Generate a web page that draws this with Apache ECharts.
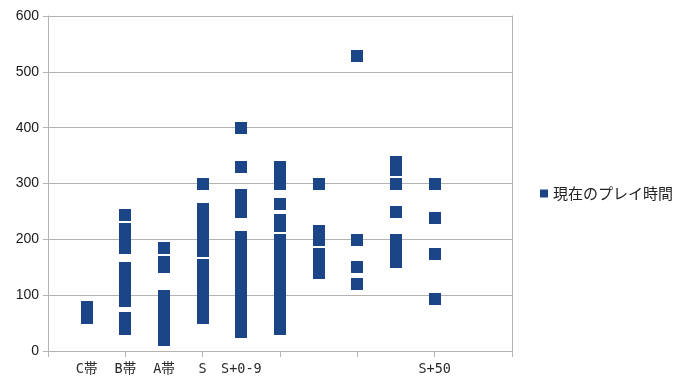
<!DOCTYPE html>
<html><head><meta charset="utf-8">
<script src="https://cdn.jsdelivr.net/npm/echarts@6/dist/echarts.min.js"></script>
<style>html,body{margin:0;padding:0;background:#fff}#c{width:688px;height:387px}</style>
</head><body><div id="c"></div>
<script>
// Category labels (index 0 and 11,12 are empty slots; 6-9 unlabeled)
const categories = ["", "C帯", "B帯", "A帯", "S", "S+0-9", "", "", "", "", "S+50", "", ""];
const seriesName = "現在のプレイ時間";
// Values per column (category index -> values)
const colC   = [79, 72, 65, 59];
const colB   = [244, 218, 205, 195, 185, 149, 135, 120, 105, 90, 59, 49, 39];
const colA   = [184, 159, 151, 98, 85, 70, 55, 40, 30, 20];
const colS   = [299, 254, 240, 225, 210, 195, 180, 154, 140, 125, 110, 95, 80, 68, 59];
const colS09 = [400, 330, 279, 264, 249, 204, 190, 175, 160, 145, 130, 115, 100, 85, 70, 55, 45, 34];
const col6   = [330, 315, 299, 264, 235, 224, 199, 185, 170, 155, 140, 125, 110, 95, 80, 65, 52, 39];
const col7   = [299, 215, 207, 199, 174, 157, 140];
const col8   = [528, 199, 150, 120];
const col9   = [339, 324, 299, 249, 199, 185, 172, 159];
const colS50 = [299, 239, 174, 93];
const yTicks = {min: 0, max: 600, interval: 100};

const columns = [[1, colC], [2, colB], [3, colA], [4, colS], [5, colS09], [6, col6], [7, col7], [8, col8], [9, col9], [10, colS50]];
const data = [];
columns.forEach(([idx, vals]) => vals.forEach(v => data.push([idx, v])));

const gridColor = '#b3b3b3';
const markColor = '#1c4587';
const markSize = 12;
const chart = echarts.init(document.getElementById('c'), null, {renderer: 'canvas'});
chart.setOption({
  animation: false,
  backgroundColor: '#fff',
  color: [markColor],
  grid: {left: 48, right: 176, top: 16, bottom: 36, containLabel: false},
  legend: {
    data: [{name: seriesName, icon: 'rect', itemStyle: {color: markColor}}],
    left: 535, top: 181, orient: 'vertical',
    itemWidth: 8, itemHeight: 8, itemGap: 5,
    textStyle: {fontFamily: "'Noto Sans CJK JP'", fontSize: 15, color: '#222'}
  },
  xAxis: {
    type: 'category', data: categories, boundaryGap: false,
    axisLine: {show: true, lineStyle: {color: gridColor, width: 1}},
    axisTick: {show: true, interval: 1, length: 6, lineStyle: {color: gridColor}},
    axisLabel: {interval: 0, margin: 12, fontSize: 13.5, color: '#2a2a2a',
      fontFamily: "'DejaVu Sans Mono', 'Noto Sans CJK JP'"},
    splitLine: {show: false}
  },
  yAxis: [{
    type: 'value', min: yTicks.min, max: yTicks.max, interval: yTicks.interval,
    axisLine: {show: true, lineStyle: {color: gridColor, width: 1}},
    axisTick: {show: true, length: 5, lineStyle: {color: gridColor}},
    axisLabel: {margin: 9, fontSize: 14, color: '#1a1a1a', fontFamily: "'Liberation Sans', Arial"},
    splitLine: {show: true, lineStyle: {color: gridColor, width: 1}}
  }, {
    type: 'value', min: yTicks.min, max: yTicks.max, interval: yTicks.interval, position: 'right',
    axisLine: {show: true, lineStyle: {color: gridColor, width: 1}},
    axisTick: {show: false}, axisLabel: {show: false}, splitLine: {show: false}
  }],
  series: [{
    name: seriesName, type: 'custom',
    encode: {x: 0, y: 1},
    renderItem: function (params, api) {
      const p = api.coord([api.value(0), api.value(1)]);
      const h = markSize / 2;
      return {
        type: 'rect',
        shape: {x: Math.round(p[0] - h), y: Math.round(p[1] - h), width: markSize, height: markSize},
        style: {fill: markColor, stroke: null, lineWidth: 0}
      };
    },
    data: data
  }]
});
</script></body></html>
